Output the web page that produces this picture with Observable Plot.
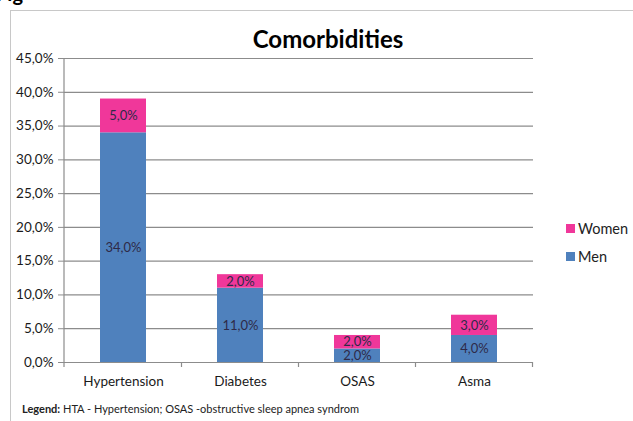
<!DOCTYPE html>
<html>
<head>
<meta charset="utf-8">
<script src="https://cdn.jsdelivr.net/npm/d3@7"></script>
<script src="https://cdn.jsdelivr.net/npm/@observablehq/plot@0.6"></script>
<style>
  html, body { margin: 0; padding: 0; background: #fff; }
  #wrap { position: relative; width: 633px; height: 421px; overflow: hidden; font-family: Lato, "Open Sans", sans-serif; }
  #frame { position: absolute; left: 10px; top: 10px; width: 640px; height: 430px; border: 1px solid #c8c8c8; box-sizing: border-box; }
  #title { position: absolute; left: 0; width: 656px; top: 24px; text-align: center; font-size: 24px; font-weight: bold; color: #000; }
  #legend { position: absolute; left: 566px; top: 214px; font-size: 14.5px; color: #222; }
  #legend div { height: 28px; display: flex; align-items: center; }
  #legend span.sw { display: inline-block; width: 9px; height: 9px; margin-right: 3px; }
  #caption { position: absolute; left: 22px; top: 402px; font-size: 11px; color: #222; }
  #fig { position: absolute; left: -4px; top: -17px; font-size: 20px; line-height: 20px; font-weight: bold; color: #000; }
  #chart { position: absolute; left: 0; top: 0; }
</style>
</head>
<body>
<div id="wrap">
  <div id="fig">Fig</div>
  <div id="frame"></div>
  <div id="chart"></div>
  <div id="title">Comorbidities</div>
  <div id="legend"></div>
  <div id="caption"><b>Legend:</b> HTA - Hypertension; OSAS -obstructive sleep apnea syndrom</div>
</div>
<script>
const categories = ["Hypertension", "Diabetes", "OSAS", "Asma"];
const series = ["Men", "Women"];
const menValues = [34, 11, 2, 4];
const womenValues = [5, 2, 2, 3];
const yTicks = [0, 5, 10, 15, 20, 25, 30, 35, 40, 45];
const colors = ["#4F81BD", "#F0379A"];

const data = [];
categories.forEach((c, i) => {
  data.push({cat: c, sex: "Men", value: menValues[i]});
  data.push({cat: c, sex: "Women", value: womenValues[i]});
});

const fmt = v => v.toFixed(1).replace(".", ",") + "%";

const plot = Plot.plot({
  width: 633,
  height: 421,
  marginLeft: 64,
  marginRight: 100,
  marginTop: 58,
  marginBottom: 59,
  style: {fontFamily: "Lato, 'Open Sans', sans-serif", fontSize: "12px", color: "#222", background: "transparent"},
  x: {domain: categories, paddingInner: 0.61, paddingOuter: 0.3, label: null},
  y: {domain: [0, 45], label: null},
  color: {domain: series, range: colors},
  marks: [
    Plot.gridY(yTicks, {stroke: "#8c8c8c", strokeOpacity: 1, strokeWidth: 1.2}),
    Plot.barY(data, Plot.stackY({x: "cat", y: "value", fill: "sex", z: "sex", order: series})),
    Plot.text(data, Plot.stackY({x: "cat", y: "value", z: "sex", order: series, text: d => fmt(d.value), fill: "#2e2a48", fontSize: 13})),
    Plot.axisY(yTicks, {tickFormat: fmt, tickSize: 6, tickPadding: 5, stroke: "#8c8c8c", fontSize: 13.5, fill: "#1a1a1a"}),
    Plot.axisX({tickSize: 0, tickPadding: 14, fontSize: 13.5, fill: "#1a1a1a"})
  ]
});
document.getElementById("chart").appendChild(plot);

// left axis line and band-boundary ticks, derived from the scales
const xs = plot.scale("x");
const ys = plot.scale("y");
const svg = d3.select(plot);
const y0 = ys.apply(0), yTop = ys.apply(45);
const left = xs.range[0];
svg.append("line").attr("x1", left).attr("x2", left).attr("y1", yTop).attr("y2", y0)
  .attr("stroke", "#8c8c8c").attr("stroke-width", 1.2);
const step = xs.step;
const bounds = [left].concat(categories.map(c => xs.apply(c) + xs.bandwidth + (step - xs.bandwidth) / 2));
bounds.forEach(b => {
  svg.append("line").attr("x1", b).attr("x2", b).attr("y1", y0).attr("y2", y0 + 5)
    .attr("stroke", "#8c8c8c").attr("stroke-width", 1.2);
});

// legend (top to bottom: Women, Men)
const legend = d3.select("#legend");
[1, 0].forEach(i => {
  const row = legend.append("div");
  row.append("span").attr("class", "sw").style("background", colors[i]);
  row.append("span").text(series[i]);
});
</script>
</body>
</html>
